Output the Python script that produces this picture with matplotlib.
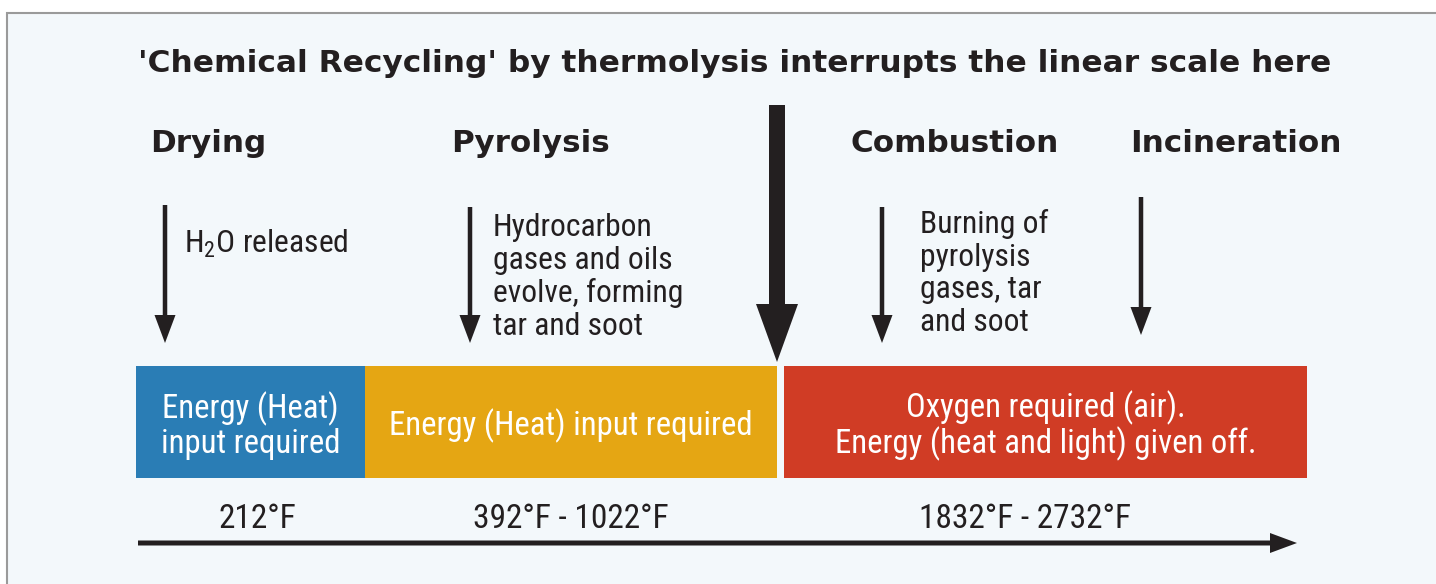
import matplotlib
matplotlib.use("Agg")
import matplotlib.pyplot as plt
from matplotlib.patches import Rectangle

NARROW = "Roboto Condensed"
BOLD = "DejaVu Sans"
plt.rcParams['mathtext.fontset'] = 'custom'
plt.rcParams['mathtext.rm'] = NARROW

# ---- data ----
title = "'Chemical Recycling' by thermolysis interrupts the linear scale here"
stages = ["Drying", "Pyrolysis", "Combustion", "Incineration"]
descriptions = ["H$_\\mathregular{2}$O released",
                "Hydrocarbon\ngases and oils\nevolve, forming\ntar and soot",
                "Burning of\npyrolysis\ngases, tar\nand soot",
                ""]
bar_labels = ["Energy (Heat)\ninput required",
              "Energy (Heat) input required",
              "Oxygen required (air).\nEnergy (heat and light) given off."]
bar_colors = ["#2a7db5", "#e5a613", "#d03c25"]
temps = ["212°F", "392°F - 1022°F", "1832°F - 2732°F"]

# ---- layout (pixel coordinates) ----
W, H = 1436, 584
INK = "#231f20"

fig = plt.figure(figsize=(W / 100, H / 100), dpi=100)
fig.patch.set_facecolor("white")
ax = fig.add_axes([0, 0, 1, 1])
ax.set_xlim(0, W)
ax.set_ylim(H, 0)
ax.axis("off")

# panel background + border
ax.add_patch(Rectangle((7, 13), W, H, facecolor="#f3f8fb", edgecolor="#9a9a9a", lw=1.5))

ax.text(735, 63, title, ha="center", va="center", fontsize=22.5,
        fontweight="bold", family=BOLD, color=INK)

stage_x = [150, 451, 851, 1130]
for x, s in zip(stage_x, stages):
    ax.text(x, 144, s, ha="left", va="center", fontsize=22.3,
            fontweight="bold", family=BOLD, color=INK)

# thin arrows
arrow_x = [165, 470, 882, 1141]
arrow_top = [205, 207, 207, 197]
arrow_tip = [343, 343, 343, 335]
for x, t, b in zip(arrow_x, arrow_top, arrow_tip):
    ax.arrow(x, t, 0, b - t, width=4.5, head_width=21, head_length=28,
             length_includes_head=True, color=INK, lw=0)

# big arrow
ax.arrow(777, 105, 0, 362 - 105, width=16, head_width=42, head_length=58,
         length_includes_head=True, color=INK, lw=0)

# descriptions
desc_pos = [(184, 244), (493, 277), (920, 273), (0, 0)]
for (x, y), d in zip(desc_pos, descriptions):
    if d:
        ax.text(x, y, d, ha="left", va="center", fontsize=22.8, family=NARROW,
                color=INK, linespacing=1.15)

# bars
bar_left = [136, 365, 784]
bar_right = [365, 777, 1307]
for l, r, c, lab in zip(bar_left, bar_right, bar_colors, bar_labels):
    ax.add_patch(Rectangle((l, 366), r - l, 112, facecolor=c, edgecolor="none"))
    ax.text((l + r) / 2, 426, lab, ha="center", va="center",
            fontsize=23.6, family=NARROW, color="white", linespacing=1.07)

# temperatures
temp_x = [257, 571, 1025]
for x, t in zip(temp_x, temps):
    ax.text(x, 519, t, ha="center", va="center", fontsize=24, family=NARROW, color=INK)

# bottom scale arrow
ax.arrow(138, 543, 1297 - 138, 0, width=5, head_width=20, head_length=27,
         length_includes_head=True, color=INK, lw=0)

fig.savefig("out.png", dpi=100, facecolor="white")
